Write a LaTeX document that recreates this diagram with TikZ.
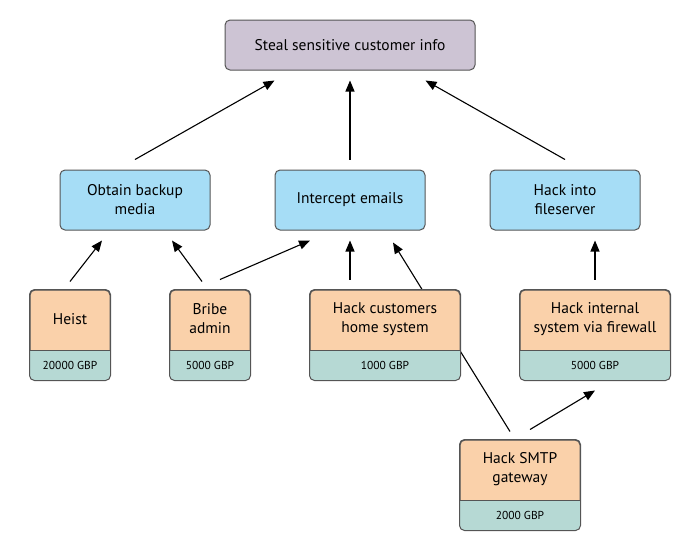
\documentclass[tikz,border=0pt]{standalone}
\usepackage{fontspec}
\setmainfont{PT Sans}
\usetikzlibrary{arrows.meta,calc}
\definecolor{topfill}{HTML}{CDC4D4}
\definecolor{midfill}{HTML}{A6DDF6}
\definecolor{leaffill}{HTML}{FAD1AA}
\definecolor{costfill}{HTML}{B6D9D4}
\definecolor{edge}{HTML}{555555}
\tikzset{
  box/.style={draw=edge, line width=1pt, rounded corners=5pt, inner sep=0pt, align=center, font=\fontsize{15.5}{19}\selectfont},
  goal/.style={box, fill=topfill, minimum width=250pt, minimum height=50pt},
  sub/.style={box, fill=midfill, minimum width=150pt, minimum height=60pt},
  leafbox/.style={box, fill=leaffill, minimum height=90pt},
  lbl/.style={inner sep=0pt, align=center, font=\fontsize{15.5}{19}\selectfont},
  costlbl/.style={inner sep=0pt, font=\fontsize{11.5}{13}\selectfont},
  arr/.style={line width=1.1pt, -{Triangle[length=11pt,width=9pt]}},
  plain/.style={line width=1pt}
}
\newcommand\costpart[1]{%
  \begin{scope}
    \clip[rounded corners=5pt] (#1.south west) rectangle (#1.north east);
    \fill[costfill] (#1.south west) rectangle ([yshift=30pt]#1.south east);
  \end{scope}
  \draw[edge, line width=1pt, rounded corners=5pt] (#1.south west) rectangle (#1.north east);
  \draw[edge, line width=1pt] ([yshift=30pt]#1.south west) -- ([yshift=30pt]#1.south east);
}
\begin{document}
\begin{tikzpicture}[x=1pt,y=-1pt]
\useasboundingbox (0,0) rectangle (700,550);
\node[goal] (steal) at (350,45) {Steal sensitive customer info};
\node[sub] (obtain) at (135,200) {Obtain backup\\media};
\node[sub] (intercept) at (350,200) {Intercept emails};
\node[sub] (fileserver) at (565,200) {Hack into\\fileserver};

\node[leafbox, minimum width=120pt] (smtp) at (520,485) {};
% SMTP -> Intercept (passes behind the home system box)
\draw[arr] ([xshift=-10pt, yshift=8pt]smtp.north) -- ([xshift=43pt, yshift=-12pt]intercept.south);

\node[leafbox, minimum width=80pt] (heist) at (70,335) {};
\node[leafbox, minimum width=80pt] (bribe) at (210,335) {};
\node[leafbox, minimum width=150pt] (home) at (385,335) {};
\node[leafbox, minimum width=150pt] (firewall) at (595,335) {};

\costpart{heist}
\costpart{bribe}
\costpart{home}
\costpart{firewall}
\costpart{smtp}

\node[lbl] (heist-t) at (70,319) {Heist};
\node[costlbl] (heist-c) at (70,365) {20000 GBP};
\node[lbl] (bribe-t) at (210,319) {Bribe\\admin};
\node[costlbl] (bribe-c) at (210,365) {5000 GBP};
\node[lbl] (home-t) at (385,319) {Hack customers\\home system};
\node[costlbl] (home-c) at (385,365) {1000 GBP};
\node[lbl] (firewall-t) at (595,319) {Hack internal\\system via firewall};
\node[costlbl] (firewall-c) at (595,365) {5000 GBP};
\node[lbl] (smtp-t) at (520,469) {Hack SMTP\\gateway};
\node[costlbl] (smtp-c) at (520,515) {2000 GBP};

% arrows
\draw[arr] ([yshift=10pt]obtain.north) -- ([xshift=50pt, yshift=-10pt]steal.south west);
\draw[arr] ([yshift=10pt]intercept.north) -- ([yshift=-10pt]steal.south);
\draw[arr] ([yshift=10pt]fileserver.north) -- ([xshift=-50pt, yshift=-10pt]steal.south east);
\draw[arr] ([yshift=8pt]heist.north) -- ([xshift=-33pt, yshift=-10pt]obtain.south);
\draw[arr] ([xshift=-8pt, yshift=8pt]bribe.north) -- ([xshift=37pt, yshift=-10pt]obtain.south);
\draw[arr] ([xshift=10pt, yshift=10pt]bribe.north) -- ([xshift=-40pt, yshift=-10pt]intercept.south);
\draw[arr] ([xshift=-35pt, yshift=10pt]home.north) -- ([yshift=-10pt]intercept.south);
\draw[arr] ([yshift=10pt]firewall.north) -- ([xshift=30pt, yshift=-10pt]fileserver.south);
\draw[arr] ([xshift=10pt, yshift=10pt]smtp.north) -- ([yshift=-10pt]firewall.south);
\end{tikzpicture}
\end{document}
